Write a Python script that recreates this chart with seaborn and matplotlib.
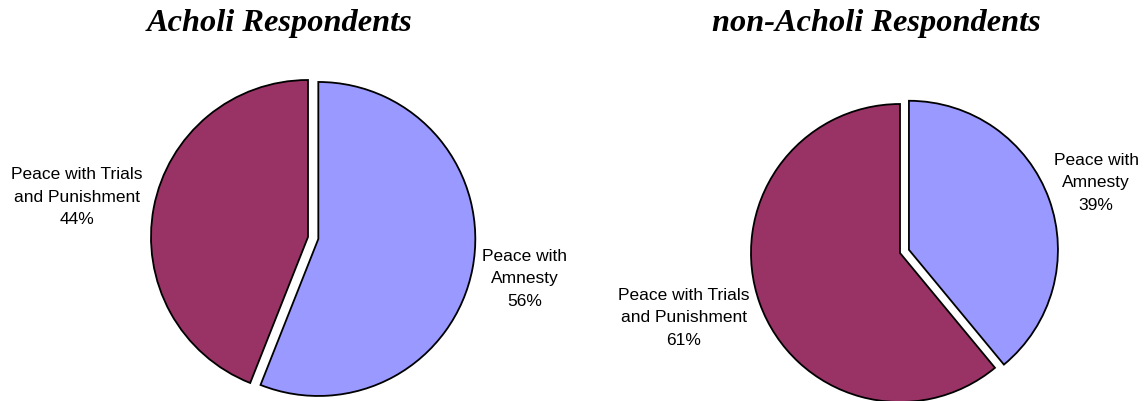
import matplotlib
matplotlib.use("Agg")
import matplotlib.pyplot as plt
import seaborn as sns

sns.set_theme(style="white")

categories = ["Peace with Trials\nand Punishment", "Peace with\nAmnesty"]
acholi = [44, 56]
non_acholi = [61, 39]
titles = ["Acholi Respondents", "non-Acholi Respondents"]
colors = ["#993366", "#9999FF"]

W, H = 1146, 401
fig = plt.figure(figsize=(W / 100, H / 100), dpi=100)
ax = fig.add_axes([0, 0, 1, 1])

wp = dict(edgecolor="black", linewidth=1.3)

# pies drawn in pixel coords (y from bottom); explode is in data units here
ax.pie(acholi, colors=colors, startangle=90, counterclock=True,
       center=(308, H - 237), radius=157, explode=(0, 10.5),
       wedgeprops=wp, frame=True)
ax.pie(non_acholi, colors=colors, startangle=90, counterclock=True,
       center=(900, H - 253), radius=149, explode=(0, 9.5),
       wedgeprops=wp, frame=True)
ax.set_xlim(0, W)
ax.set_ylim(0, H)
ax.set_aspect("equal")
ax.axis("off")

lab = dict(ha="center", va="center", fontsize=12.5, family="Liberation Sans",
           color="black", linespacing=1.6)
ax.text(77, H - 197, f"{categories[0]}\n{acholi[0]}%", **lab)
ax.text(525, H - 279, f"{categories[1]}\n{acholi[1]}%", **lab)
ax.text(1096, H - 183, f"{categories[1]}\n{non_acholi[1]}%", **lab)
ax.text(684, H - 318, f"{categories[0]}\n{non_acholi[0]}%", **lab)

tt = dict(ha="center", va="center", fontsize=23.3, family="Liberation Serif",
          fontweight="bold", fontstyle="italic", color="black")
ax.text(280, H - 23, titles[0], **tt)
ax.text(876, H - 23, titles[1], **tt)

fig.savefig("out.png", dpi=100)
